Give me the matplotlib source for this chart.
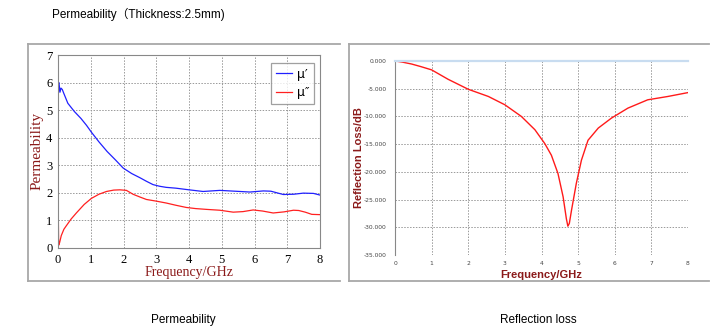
import numpy as np
import matplotlib
matplotlib.use('Agg')
import matplotlib.pyplot as plt
from matplotlib.lines import Line2D

# permeability (left panel)
f_mu1 = [0.0, 0.03, 0.06, 0.09, 0.13, 0.18, 0.3, 0.5, 0.7, 0.87, 1.02, 1.25, 1.5, 1.75, 1.99, 2.25, 2.5, 2.7, 2.9, 3.1, 3.3, 3.6, 4.0, 4.43, 4.94, 5.4, 5.86, 6.27, 6.5, 6.88, 7.2, 7.49, 7.8, 8.0]
mu1 = [5.35, 6.0, 5.65, 5.8, 5.75, 5.6, 5.25, 4.95, 4.7, 4.45, 4.2, 3.85, 3.5, 3.2, 2.9, 2.7, 2.55, 2.42, 2.3, 2.24, 2.2, 2.17, 2.11, 2.05, 2.09, 2.06, 2.03, 2.07, 2.06, 1.94, 1.95, 1.99, 1.98, 1.92]
f_mu2 = [0.0, 0.02, 0.05, 0.1, 0.18, 0.25, 0.4, 0.56, 0.8, 1.02, 1.25, 1.48, 1.7, 1.89, 2.09, 2.29, 2.5, 2.7, 3.0, 3.31, 3.6, 3.92, 4.2, 4.54, 4.94, 5.35, 5.65, 5.96, 6.25, 6.57, 6.9, 7.19, 7.35, 7.55, 7.75, 8.0]
mu2 = [2.1, 0.1, 0.2, 0.45, 0.68, 0.8, 1.05, 1.27, 1.58, 1.8, 1.95, 2.05, 2.1, 2.11, 2.09, 1.95, 1.85, 1.76, 1.7, 1.63, 1.55, 1.47, 1.43, 1.4, 1.37, 1.3, 1.32, 1.38, 1.34, 1.27, 1.31, 1.37, 1.36, 1.3, 1.22, 1.21]

# reflection loss (right panel)
f_rl = [0.0, 0.2, 0.45, 0.7, 1.0, 1.45, 2.0, 2.55, 3.0, 3.45, 3.82, 4.09, 4.27, 4.45, 4.59, 4.68, 4.72, 4.76, 4.82, 4.95, 5.09, 5.27, 5.55, 5.91, 6.36, 6.9, 7.45, 8.0]
rl = [0.0, -0.2, -0.54, -1.0, -1.6, -3.3, -5.1, -6.4, -7.9, -10.0, -12.4, -14.9, -17.0, -20.3, -24.5, -28.5, -29.8, -29.3, -26.9, -22.1, -17.9, -14.3, -12.1, -10.3, -8.5, -7.0, -6.4, -5.7]

W, H = 722, 330
fig = plt.figure(figsize=(W/100, H/100), dpi=100)
dark_red = '#8b1a1a'

def fx(px):
    return px / W
def fy(py):
    return 1 - py / H

# panel frames
for x0, x1 in [(28, 340), (349, 709)]:
    for xs, ys in [((x0, x1), (44, 44)), ((x0, x0), (44, 281)), ((x0, x1), (281, 281))]:
        fig.add_artist(Line2D([fx(v) for v in xs], [fy(v) for v in ys], color='#a8a8a8', lw=1.3))

# left chart
ax1 = fig.add_axes([fx(58), fy(248), (320-58)/W, (248-55)/H])
ax1.plot(f_mu1, mu1, color='#2020ff', lw=0.9, label="μ′")
ax1.plot(f_mu2, mu2, color='#ff2020', lw=0.9, label="μ″")
ax1.set_xlim(0, 8)
ax1.set_ylim(0, 7)
ax1.set_xticks(range(0, 9))
ax1.set_yticks(range(0, 8))
ax1.grid(True, color='#999999', ls=(0, (1.5, 1.5)), lw=0.7)
for s in ax1.spines.values():
    s.set_color('#888888')
ax1.tick_params(length=0, pad=4, labelsize=9)
for lab in ax1.get_xticklabels() + ax1.get_yticklabels():
    lab.set_family('Liberation Serif')
ax1.set_xlabel('Frequency/GHz', family='Liberation Serif', color=dark_red, fontsize=10, labelpad=0)
ax1.set_ylabel('Permeability', family='Liberation Serif', color=dark_red, fontsize=11)
ax1.yaxis.set_label_coords(-0.055, 0.5)
leg = ax1.legend(loc='upper right', bbox_to_anchor=(1.0, 0.99), fontsize=9, frameon=True,
                 fancybox=False, handlelength=1.3, handletextpad=0.4, borderpad=0.35, labelspacing=0.45)
leg.get_frame().set_edgecolor('#888888')
leg.get_frame().set_linewidth(0.9)

# right chart
ax2 = fig.add_axes([fx(395), fy(255), (688-395)/W, (255-61)/H])
ax2.plot(f_rl, rl, color='#ff1a1a', lw=1.0)
ax2.set_xlim(0, 8)
ax2.set_ylim(-35, 0)
ax2.set_xticks(range(0, 9))
ax2.set_yticks(np.arange(-35, 1, 5))
ax2.set_yticklabels(['%.3f' % v for v in np.arange(-35, 1, 5)])
ax2.grid(True, color='#999999', ls=(0, (1.5, 1.5)), lw=0.7)
ax2.spines['left'].set_color('#888888')
ax2.spines['top'].set_color('#c8dcf0')
ax2.spines['top'].set_linewidth(1.6)
ax2.spines['right'].set_visible(False)
ax2.spines['bottom'].set_visible(False)
ax2.tick_params(axis='y', length=0, pad=6, labelsize=4.3, labelcolor='#444444')
ax2.tick_params(axis='x', length=0, pad=4, labelsize=4.3, labelcolor='#444444')
ax2.set_xlabel('Frequency/GHz', family='Liberation Sans', fontweight='bold', color=dark_red, fontsize=8)
ax2.xaxis.set_label_coords(0.5, -0.075)
ax2.set_ylabel('Reflection Loss/dB', family='Liberation Sans', fontweight='bold', color=dark_red, fontsize=8)
ax2.yaxis.set_label_coords(-0.105, 0.5)

# captions
fig.text(fx(52), fy(14), 'Permeability（Thickness:2.5mm)', family=['Liberation Sans', 'Noto Sans CJK SC'],
         fontsize=8.5, va='center', ha='left')
fig.text(fx(183), fy(320), 'Permeability', family='Liberation Sans', fontsize=8.5, va='center', ha='center')
fig.text(fx(538), fy(320), 'Reflection loss', family='Liberation Sans', fontsize=8.5, va='center', ha='center')

fig.savefig('out.png', dpi=100)
